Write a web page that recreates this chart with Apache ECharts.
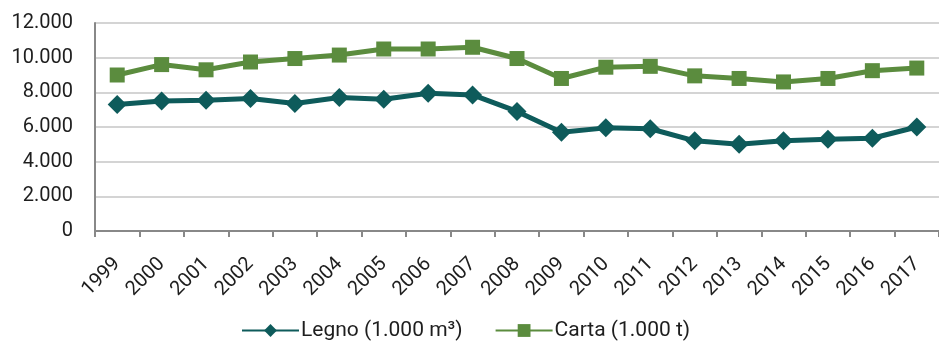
<!DOCTYPE html>
<html>
<head>
<meta charset="utf-8">
<script src="https://cdn.jsdelivr.net/npm/echarts@6/dist/echarts.min.js"></script>
<style>
  html, body { margin: 0; padding: 0; background: #fff; }
  #chart { width: 939px; height: 346px; }
</style>
</head>
<body>
<div id="chart"></div>
<script>
// Years on the category axis
const years = ['1999','2000','2001','2002','2003','2004','2005','2006','2007','2008',
               '2009','2010','2011','2012','2013','2014','2015','2016','2017'];

// Wood, thousand cubic metres
const legno = [7300, 7500, 7550, 7650, 7350, 7700, 7600, 7950, 7850, 6900,
               5700, 5950, 5900, 5200, 5000, 5200, 5300, 5350, 6000];

// Paper, thousand tonnes
const carta = [9000, 9600, 9300, 9750, 9950, 10150, 10500, 10500, 10600, 9950,
               8800, 9450, 9500, 8950, 8800, 8600, 8800, 9250, 9400];

const seriesNames = ['Legno (1.000 m³)', 'Carta (1.000 t)'];

const FONT = 'Roboto';
const TEXT = '#1e1e1e';

// Italian thousands separator
function fmt(v) {
  return String(v).replace(/\B(?=(\d{3})+(?!\d))/g, '.');
}

const chart = echarts.init(document.getElementById('chart'), null, { renderer: 'canvas' });
chart.setOption({
  animation: false,
  backgroundColor: '#ffffff',
  grid: { left: 95, right: 0, top: 23, bottom: 115, containLabel: false },
  legend: {
    bottom: 0,
    left: 236,
    itemWidth: 57,
    itemHeight: 16,
    itemGap: 32,
    textStyle: { fontFamily: FONT, fontSize: 21, color: TEXT, padding: [0, 0, 0, -3] },
    data: seriesNames
  },
  xAxis: {
    type: 'category',
    data: years,
    boundaryGap: true,
    axisLine: { lineStyle: { color: '#888888', width: 2 } },
    axisTick: { show: true, interval: 0, length: 6, lineStyle: { color: '#888888', width: 2 } },
    axisLabel: {
      interval: 0, rotate: 45, margin: 30,
      fontFamily: FONT, fontSize: 20, color: TEXT
    },
    splitLine: { show: false }
  },
  yAxis: {
    type: 'value',
    min: 0, max: 12000, interval: 2000,
    axisLine: { show: true, lineStyle: { color: '#888888', width: 2 } },
    axisTick: { show: false },
    axisLabel: {
      margin: 22, fontFamily: FONT, fontSize: 20, color: TEXT,
      formatter: fmt
    },
    splitLine: { lineStyle: { color: '#d4d4d4', width: 2 } }
  },
  series: [
    {
      name: seriesNames[0],
      type: 'line',
      data: legno,
      symbol: 'diamond',
      symbolSize: [19, 19],
      color: '#0e5b5b',
      lineStyle: { width: 5, color: '#0e5b5b' },
      itemStyle: { color: '#0e5b5b' },
      z: 3
    },
    {
      name: seriesNames[1],
      type: 'line',
      data: carta,
      symbol: 'rect',
      symbolSize: 15,
      color: '#5b8c3e',
      lineStyle: { width: 5, color: '#5b8c3e' },
      itemStyle: { color: '#5b8c3e' },
      z: 3
    }
  ]
});
</script>
</body>
</html>
